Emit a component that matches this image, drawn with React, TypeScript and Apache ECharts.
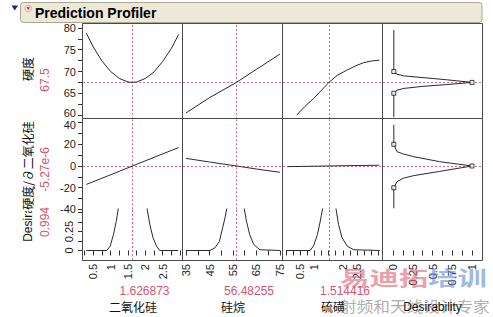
import React, { useEffect, useRef } from "react";
import * as echarts from "echarts";

// ---------------- Data ----------------
const factorNames = ["二氧化硅", "硅烷", "硫磺"];
const factorCurrent = [1.626873, 56.48255, 1.514416];
const factorCurrentLabels = ["1.626873", "56.48255", "1.514416"];
const desirabilityAxisName = "Desirability";

const responseNames = ["硬度", "硬度/∂二氧化硅", "Desirability"];
const responseCurrent = [67.5, -0.00000527, 0.994];
const responseCurrentLabels = ["67.5", "-5.27e-6", "0.994"];

// axis ranges (columns: 二氧化硅, 硅烷, 硫磺, Desirability)
const xAxisMin = [0.203, 33.7, -0.1, -0.127];
const xAxisMax = [3.085, 76.3, 3.41, 1.127];
// rows: 硬度, 硬度/∂二氧化硅, Desirability
const yAxisMin = [59.1, -40, -0.125];
const yAxisMax = [80.9, 43.3, 0.546];

// tick marks & tick labels
const xTicksSiO2 = [0.25, 0.5, 0.75, 1, 1.25, 1.5, 1.75, 2, 2.25, 2.5, 2.75, 3];
const xLabelsSiO2 = [0.5, 1, 1.5, 2, 2.5];
const xTicksSilane = [35, 40, 45, 50, 55, 60, 65, 70, 75];
const xLabelsSilane = [35, 45, 55, 65, 75];
const xTicksSulfur = [0, 0.25, 0.5, 0.75, 1, 1.25, 1.5, 1.75, 2, 2.25, 2.5, 2.75, 3, 3.25];
const xLabelsSulfur = [0.5, 1, 2, 2.5];
const xTicksDesir = [0, 0.125, 0.25, 0.375, 0.5, 0.625, 0.75, 0.875, 1];
const xLabelsDesir = [0, 0.25, 0.5, 0.75, 1];

const yTicksHard = [60, 62.5, 65, 67.5, 70, 72.5, 75, 77.5, 80];
const yLabelsHard = [60, 65, 70, 75, 80];
const yTicksDeriv = [-40, -30, -20, -10, 0, 10, 20, 30, 40];
const yLabelsDeriv = [-40, -20, 0, 20, 40];
const yTicksDesir = [0, 0.125, 0.25, 0.375, 0.5];
const yLabelsDesir = [0, 0.25];

// Row 1: 硬度 profiles
const hardSiO2X = [0.3, 0.5, 0.75, 1.0, 1.25, 1.5, 1.627, 1.75, 2.0, 2.25, 2.5, 2.75, 2.96];
const hardSiO2Y = [78.8, 75.6, 72.4, 70.0, 68.4, 67.6, 67.5, 67.6, 68.4, 69.9, 72.3, 75.3, 78.5];
const hardSilaneX = [35, 45, 56.48, 65, 75];
const hardSilaneY = [60.5, 64.0, 67.5, 70.5, 74.0];
const hardSulfurX = [0.38, 0.67, 0.97, 1.25, 1.514, 1.8, 2.14, 2.45, 2.72, 3.0, 3.28];
const hardSulfurY = [60.0, 62.0, 63.8, 65.7, 67.5, 69.1, 70.3, 71.3, 72.0, 72.4, 72.6];

// Row 2: 硬度/∂二氧化硅 profiles
const derivSiO2X = [0.3, 1.0, 1.627, 2.3, 2.96];
const derivSiO2Y = [-17.0, -8.1, 0, 8.6, 17.0];
const derivSilaneX = [35, 45, 56.48, 65, 75];
const derivSilaneY = [7.0, 3.7, 0, -2.8, -5.8];
const derivSulfurX = [0.05, 0.8, 1.514, 2.4, 3.28];
const derivSulfurY = [-0.6, -0.3, 0, 0.4, 0.7];

// Row 3: Desirability profiles
const desirSiO2X = [0.3, 0.89, 0.99, 1.08, 1.16, 1.22, 1.627, 2.05, 2.13, 2.22, 2.32, 2.41, 2.94];
const desirSiO2Y = [0, 0, 0.06, 0.21, 0.38, 0.55, 0.994, 0.55, 0.34, 0.17, 0.06, 0, 0];
const desirSilaneX = [35, 45.2, 47.3, 49.2, 50.6, 51.6, 52.3, 56.48, 59.8, 60.7, 62.1, 63.8, 66.4, 75];
const desirSilaneY = [0, 0, 0.035, 0.12, 0.3, 0.43, 0.55, 0.994, 0.55, 0.39, 0.21, 0.08, 0.01, 0];
const desirSulfurX = [0.01, 0.85, 0.97, 1.11, 1.21, 1.29, 1.514, 1.76, 1.85, 1.97, 2.15, 2.38, 3.3];
const desirSulfurY = [0, 0, 0.06, 0.21, 0.39, 0.55, 0.994, 0.55, 0.34, 0.17, 0.06, 0.01, 0];

// Desirability functions (x = desirability, y = response)
const dfHardD = [0.01, 0.01, 0.05, 0.13, 0.38, 0.68, 1.0, 0.68, 0.38, 0.13, 0.05, 0.01, 0.01];
const dfHardY = [79.5, 70, 69.4, 69.0, 68.6, 68.1, 67.5, 67.0, 66.6, 66.1, 65.7, 65.0, 59.5];
const dfHardHandleD = [0.01, 1.0, 0.01];
const dfHardHandleY = [70, 67.5, 65];
const dfDerivD = [0.01, 0.01, 0.05, 0.13, 0.26, 0.59, 1.0, 0.59, 0.26, 0.13, 0.05, 0.01, 0.01];
const dfDerivY = [38, 20, 13.2, 11.1, 8.6, 4.0, 0, -5.0, -8.9, -11.3, -14.5, -20, -39];
const dfDerivHandleD = [0.01, 1.0, 0.01];
const dfDerivHandleY = [20, 0, -20];

// watermark text seen in the picture
const watermarkRed = "易迪拓";
const watermarkBlue = "培训";
const watermarkSub = "射频和天线设计专家";
const titleText = "Prediction Profiler";

// ---------------- Layout / style ----------------
const FONT = "'Liberation Sans', Arial, 'Noto Sans CJK SC', sans-serif";
const CJK = "'Noto Sans CJK SC', 'Liberation Sans', sans-serif";
const RED = "#d4566f";
const DOT = "#d86a86";
const INK = "#2a2a2a";
const FRAME = "#4a4a4a";

const colLefts = [83, 183, 283, 383];
const colWidths = [100, 100, 100, 99];
const rowTops = [24, 119, 209];
const rowHeights = [95, 90.4, 51];

const zip = (a: number[], b: number[]) => a.map((v, i) => [v, b[i]]);

const xTicks = [xTicksSiO2, xTicksSilane, xTicksSulfur, xTicksDesir];
const xLabels = [xLabelsSiO2, xLabelsSilane, xLabelsSulfur, xLabelsDesir];
const yTicks = [yTicksHard, yTicksDeriv, yTicksDesir];
const yLabels = [yLabelsHard, yLabelsDeriv, yLabelsDesir];

const curves: (number[][] | null)[][] = [
  [zip(hardSiO2X, hardSiO2Y), zip(hardSilaneX, hardSilaneY), zip(hardSulfurX, hardSulfurY), zip(dfHardD, dfHardY)],
  [zip(derivSiO2X, derivSiO2Y), zip(derivSilaneX, derivSilaneY), zip(derivSulfurX, derivSulfurY), zip(dfDerivD, dfDerivY)],
  [zip(desirSiO2X, desirSiO2Y), zip(desirSilaneX, desirSilaneY), zip(desirSulfurX, desirSulfurY), null],
];
const handles = [zip(dfHardHandleD, dfHardHandleY), zip(dfDerivHandleD, dfDerivHandleY)];

// nudge the two labels that meet at the row boundary apart a little
const yLabelFormatter = (r: number) => (v: number) => {
  if (r === 0 && v === yLabelsHard[0]) return "{up|" + v + "}";
  if (r === 1 && v === yLabelsDeriv[yLabelsDeriv.length - 1]) return "{dn|" + v + "}";
  return String(v);
};

function buildOption() {
  const grid: any[] = [];
  const xAxis: any[] = [];
  const yAxis: any[] = [];
  const series: any[] = [];

  for (let r = 0; r < 3; r++) {
    for (let c = 0; c < 4; c++) {
      const i = r * 4 + c;
      grid.push({ left: colLefts[c], top: rowTops[r], width: colWidths[c], height: rowHeights[r] });
      xAxis.push({
        type: "value",
        gridIndex: i,
        min: xAxisMin[c],
        max: xAxisMax[c],
        show: r === 2,
        axisLine: { show: false },
        splitLine: { show: false },
        axisTick: { show: true, length: 5, lineStyle: { color: "#333" }, customValues: xTicks[c] },
        axisLabel: {
          show: true,
          rotate: 90,
          margin: 4,
          fontSize: 11,
          color: "#222",
          fontFamily: FONT,
          customValues: xLabels[c],
          formatter: (v: number) => String(v),
        },
      });
      yAxis.push({
        type: "value",
        gridIndex: i,
        min: yAxisMin[r],
        max: yAxisMax[r],
        show: c === 0,
        axisLine: { show: false },
        splitLine: { show: false },
        axisTick: { show: true, length: 5, lineStyle: { color: "#333" }, customValues: yTicks[r] },
        axisLabel: {
          show: true,
          rotate: r === 2 ? 90 : 0,
          margin: r === 2 ? 9 : 7,
          fontSize: 11,
          color: "#222",
          fontFamily: FONT,
          customValues: yLabels[r],
          formatter: yLabelFormatter(r),
          rich: {
            up: { padding: [0, 0, 5, 0] },
            dn: { padding: [5, 0, 0, 0] },
          },
        },
      });

      const data = curves[r][c];
      if (data) {
        const ml: any[] = [];
        if (c < 3) ml.push({ xAxis: factorCurrent[c] });
        if (r < 2) ml.push({ yAxis: responseCurrent[r] });
        series.push({
          type: "line",
          xAxisIndex: i,
          yAxisIndex: i,
          data,
          symbol: "none",
          showSymbol: false,
          clip: true,
          lineStyle: { color: INK, width: 1 },
          silent: true,
          z: 3,
          markLine: {
            silent: true,
            symbol: ["none", "none"],
            label: { show: false },
            lineStyle: { color: DOT, type: [2, 2], width: 1 },
            data: ml,
            z: 2,
          },
        });
      }
      if (c === 3 && r < 2) {
        series.push({
          type: "scatter",
          xAxisIndex: i,
          yAxisIndex: i,
          data: handles[r],
          symbol: "rect",
          symbolSize: 4,
          itemStyle: { color: "#fff", borderColor: "#111", borderWidth: 1 },
          silent: true,
          z: 4,
        });
      }
    }
  }

  const g: any[] = [];
  // header
  g.push({ type: "rect", shape: { x: 20.5, y: 2.5, width: 461.5, height: 20, r: 3 }, style: { fill: "#ECE9D8", stroke: "#ABA791", lineWidth: 1 } });
  g.push({ type: "polygon", shape: { points: [[11.5, 5.5], [18, 5.5], [14.75, 10.5]] }, style: { fill: "#0a2d8f" }, z: 5 });
  g.push({ type: "circle", shape: { cx: 28.3, cy: 8.5, r: 3.3 }, style: { fill: "#f6dede", stroke: "#d49a9a", lineWidth: 0.8 }, z: 5 });
  g.push({ type: "polygon", shape: { points: [[26.6, 7.3], [30, 7.3], [28.3, 9.9]] }, style: { fill: "#d02020" }, z: 6 });
  g.push({ type: "text", x: 35, y: 13, style: { text: titleText, fill: "#000", fontSize: 14, fontWeight: "bold", fontFamily: FONT, align: "left", verticalAlign: "middle" }, z: 5 });

  // watermark
  g.push({ type: "text", x: 340, y: 277, scaleX: 1.47, style: { text: watermarkRed, fill: "#e06a7c", opacity: 0.65, fontSize: 20, fontWeight: "bold", fontFamily: CJK, align: "left", verticalAlign: "middle" }, z: 1 });
  g.push({ type: "text", x: 428, y: 277, scaleX: 1.47, style: { text: watermarkBlue, fill: "#6d8fcf", opacity: 0.65, fontSize: 20, fontWeight: "bold", fontFamily: CJK, align: "left", verticalAlign: "middle" }, z: 1 });
  g.push({ type: "text", x: 340, y: 306, scaleX: 1.11, style: { text: watermarkSub, fill: "#8a8a8a", opacity: 0.7, fontSize: 15, fontFamily: CJK, align: "left", verticalAlign: "middle" }, z: 1 });

  // frame
  const L = (x1: number, y1: number, x2: number, y2: number) =>
    g.push({ type: "line", shape: { x1, y1, x2, y2 }, style: { stroke: FRAME, lineWidth: 1 }, z: 20 });
  L(82.5, 23.5, 482.5, 23.5);
  L(82.5, 23.5, 82.5, 260.5);
  L(482.5, 23.5, 482.5, 260.5);
  L(82.5, 260.5, 482.5, 260.5);
  L(82.5, 118.5, 482.5, 118.5);
  L(182.5, 23.5, 182.5, 260.5);
  L(282.5, 23.5, 282.5, 260.5);
  L(382.5, 23.5, 382.5, 260.5);

  // response (row) names and current values
  const vt = (text: string, x: number, y: number, fill: string, font: string, extra: any = {}) =>
    g.push({ type: "text", x, y, rotation: Math.PI / 2, style: { text, fill, fontSize: 12, fontFamily: font, align: "center", verticalAlign: "middle", ...extra }, z: 30 });
  vt(responseNames[2], 27.5, 212.5, "#111", FONT);
  vt(responseNames[0], 27.5, 69, "#111", CJK);
  vt(responseNames[1], 27.5, 165.5, "#111", CJK, { backgroundColor: "#fff", padding: [0, 1, 0, 1] });
  vt(responseCurrentLabels[0], 44.5, 80, RED, FONT);
  vt(responseCurrentLabels[1], 44.5, 169.5, RED, FONT);
  vt(responseCurrentLabels[2], 44.5, 222, RED, FONT);

  // factor (column) names and current values
  const valueX = [144.5, 249, 345];
  const nameX = [133, 233, 333];
  for (let c = 0; c < 3; c++) {
    g.push({ type: "text", x: valueX[c], y: 291, style: { text: factorCurrentLabels[c], fill: RED, fontSize: 12, fontFamily: FONT, align: "center", verticalAlign: "middle" }, z: 30 });
    g.push({ type: "text", x: nameX[c], y: 306.5, style: { text: factorNames[c], fill: "#111", fontSize: 12, fontFamily: CJK, align: "center", verticalAlign: "middle" }, z: 30 });
  }
  g.push({ type: "text", x: 432.5, y: 306.5, style: { text: desirabilityAxisName, fill: "#111", fontSize: 12, fontFamily: FONT, align: "center", verticalAlign: "middle" }, z: 30 });

  return {
    animation: false,
    backgroundColor: "#fff",
    grid,
    xAxis,
    yAxis,
    series,
    graphic: { elements: g },
  };
}

export default function App() {
  const ref = useRef<HTMLDivElement>(null);
  useEffect(() => {
    if (!ref.current) return;
    const chart = echarts.init(ref.current, null, { renderer: "svg", width: 493, height: 317 });
    chart.setOption(buildOption() as any);
    return () => chart.dispose();
  }, []);
  return (
    <div
      ref={ref}
      style={{ position: "fixed", left: 0, top: 0, width: 493, height: 317, background: "#fff" }}
    />
  );
}
